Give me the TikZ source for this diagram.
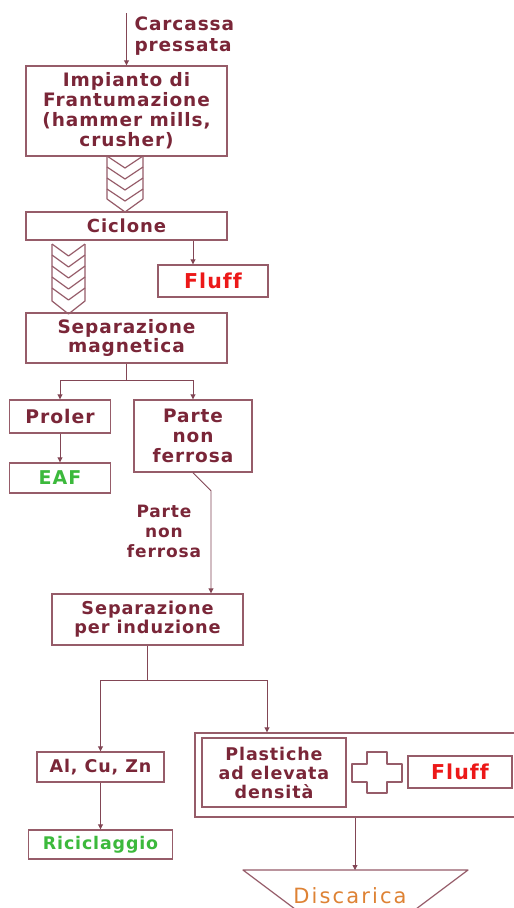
\documentclass[tikz,border=0pt]{standalone}
\usepackage{fontspec}
\usetikzlibrary{arrows.meta}
\newfontfamily\flowfont{DejaVu Sans Bold}[LetterSpace=5, Ligatures=NoCommon]
\newfontfamily\dumpfont{DejaVu Sans}[LetterSpace=10]
\definecolor{textcol}{RGB}{122,38,56}
\definecolor{boxcol}{RGB}{150,92,105}
\definecolor{linecol}{RGB}{130,70,85}
\definecolor{fluffred}{RGB}{236,24,24}
\definecolor{recgreen}{RGB}{60,185,60}
\definecolor{dumporange}{RGB}{222,130,52}
\tikzset{
  flowbox/.style={draw=boxcol, line width=1.4pt, inner sep=0pt, align=center, text=textcol},
  flowarrow/.style={draw=linecol, line width=0.9pt, -{Triangle[length=5pt,width=5pt]}},
  flowline/.style={draw=linecol, line width=0.9pt},
  chevron/.style={draw=boxcol, line width=1.2pt, line join=round},
  boxtext/.style 2 args={font=\flowfont\fontsize{#1}{#2}\selectfont}
}
\begin{document}
\begin{tikzpicture}[x=1pt,y=-1pt]
\clip (0,0) rectangle (514,908);
\fill[white] (0,0) rectangle (514,908);

% ingresso e frantumazione
\coordinate (start) at (126.5,13);
\node[anchor=west, align=left, text=textcol, boxtext={18.5}{21}] (carc) at (131,36) {Carcassa\\pressata};
\node[flowbox, boxtext={18.5}{20}, minimum width=201, minimum height=90] (imp) at (126.5,111) {Impianto di\\Frantumazione\\(hammer mills,\\crusher)};
\draw[flowarrow] (start) -- (imp.north);

\node[flowbox, boxtext={18}{20}, minimum width=201, minimum height=28] (cicl) at (126.5,226) {Ciclone};
\node[flowbox, boxtext={20.5}{22}, text=fluffred, minimum width=110, minimum height=32] (fluffA) at (213,281) {Fluff};
\coordinate (fa) at ([xshift=-20pt]fluffA.north);
\draw[flowarrow] (fa |- cicl.south) -- (fa);

\node[flowbox, boxtext={18.5}{19}, minimum width=201, minimum height=50] (sepmag) at (126.5,338) {Separazione\\magnetica};

% frecce a spina di pesce
\foreach \cx/\ct/\hw/\n/\tb in {125/156/18/3/212, 68.5/244/16.5/4/314} {
  \draw[chevron] (\cx-\hw,\ct) -- (\cx-\hw,\tb-13) -- (\cx,\tb) -- (\cx+\hw,\tb-13) -- (\cx+\hw,\ct);
  \foreach \k in {0,...,\n}
    \draw[chevron] (\cx-\hw,\ct+11*\k) -- (\cx,\ct+11*\k+12) -- (\cx+\hw,\ct+11*\k);
}

% separazione magnetica
\node[flowbox, boxtext={18.8}{21}, minimum width=101, minimum height=33] (prol) at (60,416.5) {Proler};
\node[flowbox, boxtext={19}{21}, text=recgreen, minimum width=101, minimum height=30] (eaf) at (60,478) {EAF};
\node[flowbox, boxtext={18.5}{20}, minimum width=118, minimum height=72] (nonf) at (193,436) {Parte\\non\\ferrosa};
\draw[flowline] (sepmag.south) -- (sepmag.south |- 0,380) coordinate (smj);
\draw[flowarrow] (smj) -| (prol.north);
\draw[flowarrow] (smj) -| (nonf.north);
\draw[flowarrow] (prol) -- (eaf);

% separazione per induzione
\node[text=textcol, align=center, boxtext={17}{20}] (nflab) at (164,531) {Parte\\non\\ferrosa};
\node[flowbox, boxtext={17.7}{19}, minimum width=191, minimum height=51] (sepind) at (147.5,619.5) {Separazione\\per induzione};
\draw[flowarrow] (nonf.south) -- ++(18,18) coordinate (nfk) -- (nfk |- sepind.north);

\node[flowbox, boxtext={17.5}{20}, minimum width=127, minimum height=30] (metal) at (100.5,767) {Al, Cu, Zn};
\node[flowbox, boxtext={17.4}{19}, text=recgreen, minimum width=144, minimum height=29] (ricic) at (100.5,844.5) {Riciclaggio};
\node[flowbox, minimum width=330, minimum height=84] (grp) at (360,775) {};
\node[flowbox, boxtext={17.5}{19}, minimum width=144, minimum height=69] (plast) at (274,772.5) {Plastiche\\ad elevata\\densit\`a};
\node[flowbox, boxtext={20.5}{22}, text=fluffred, minimum width=104, minimum height=32] (fluffB) at (460,772) {Fluff};
\draw[flowline] (sepind.south) -- (sepind.south |- 0,680) coordinate (sij);
\draw[flowarrow] (sij) -| (metal.north);
\coordinate (gp) at (267,0);
\draw[flowarrow] (sij) -| (gp |- grp.north);
\draw[flowarrow] (metal.south) -- (metal.south |- ricic.north);

% segno piu
\draw[chevron] (367,752) -- (387,752) -- (387,764) -- (402,764) -- (402,782) -- (387,782)
  -- (387,793) -- (367,793) -- (367,782) -- (352,782) -- (352,764) -- (367,764) -- cycle;

% discarica
\coordinate (dtl) at (243,870);
\coordinate (dtr) at (468,870);
\coordinate (dtop) at (355,870);
\draw[chevron] (dtl) -- (dtr) -- ++(-64,48) -- ++(-97,0) -- cycle;
\node[text=dumporange, font=\dumpfont\fontsize{21}{23}\selectfont] (disc) at (350,896) {Discarica};
\draw[flowarrow] (grp.south -| dtop) -- (dtop);
\end{tikzpicture}
\end{document}
